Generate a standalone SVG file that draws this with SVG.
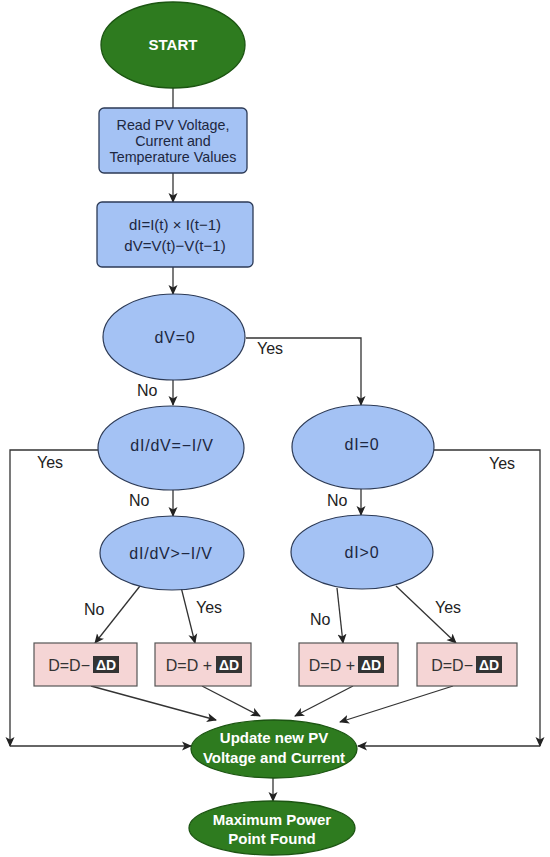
<svg xmlns="http://www.w3.org/2000/svg" width="550" height="857" viewBox="0 0 550 857">
<defs>
<marker id="ah" markerWidth="10" markerHeight="10" refX="9" refY="5" orient="auto" markerUnits="userSpaceOnUse">
<path d="M0,0.5 L10,5 L0,9.5 L2.5,5 Z" fill="#222"/>
</marker>
<style>
.term{fill:#2e7b1f;stroke:#1c5512;stroke-width:1.3}
.tt{font-family:"Liberation Sans",Arial,sans-serif;font-weight:bold;font-size:15px;fill:#fff;text-anchor:middle}
.proc{fill:#a4c2f4;stroke:#2c3a56;stroke-width:1.3}
.dec{fill:#a4c2f4;stroke:#2c3a56;stroke-width:1.2}
.bt{font-family:"Liberation Sans",Arial,sans-serif;font-size:14.3px;fill:#1d2740;text-anchor:middle}
.mt{font-family:"Liberation Sans",Arial,sans-serif;font-size:15px;fill:#1d2740;text-anchor:middle}
.dt{font-family:"Liberation Sans",Arial,sans-serif;font-size:16px;fill:#1d2740;text-anchor:middle;letter-spacing:0.8px}
.act{fill:#f5d5d5;stroke:#555;stroke-width:1.2}
.at{font-family:"Liberation Sans",Arial,sans-serif;font-size:16px;fill:#333;text-anchor:end}
.blk{fill:#333}
.bk{font-family:"Liberation Sans",Arial,sans-serif;font-weight:bold;font-size:14px;fill:#fff;text-anchor:middle}
.lbl{font-family:"Liberation Sans",Arial,sans-serif;font-size:16px;fill:#222}
.cn{fill:none;stroke:#333;stroke-width:1.3}
.ca{fill:none;stroke:#333;stroke-width:1.3;marker-end:url(#ah)}
</style>
</defs>
<rect width="550" height="857" fill="#fff"/>

<g id="connectors">
<line class="cn" x1="173" y1="88" x2="173" y2="108"/>
<line class="ca" x1="173" y1="173" x2="173" y2="202"/>
<line class="ca" x1="173" y1="267" x2="173" y2="294"/>
<polyline class="ca" points="246,338 361,338 361,405"/>
<line class="ca" x1="173" y1="380" x2="173" y2="405"/>
<polyline class="ca" points="98,450 10,450 10,746"/>
<polyline class="ca" points="434,450 540,450 540,746"/>
<line class="ca" x1="173" y1="490" x2="173" y2="516"/>
<line class="ca" x1="361" y1="489" x2="361" y2="515"/>
<line class="ca" x1="140" y1="586" x2="95" y2="643"/>
<line class="ca" x1="181" y1="587" x2="195" y2="643"/>
<line class="ca" x1="337" y1="588" x2="343" y2="643"/>
<line class="ca" x1="396" y1="586" x2="456" y2="643"/>
<line class="ca" x1="91" y1="686" x2="216" y2="720"/>
<line class="ca" x1="202" y1="686" x2="260" y2="716"/>
<line class="ca" x1="353" y1="686" x2="295" y2="716"/>
<line class="ca" x1="453" y1="686" x2="340" y2="722"/>
<line class="ca" x1="10" y1="746" x2="191" y2="746"/>
<line class="ca" x1="540" y1="746" x2="358" y2="746"/>
<line class="ca" x1="273" y1="778" x2="273" y2="801"/>
<text class="lbl" x="257" y="354">Yes</text>
<text class="lbl" x="137" y="396">No</text>
<text class="lbl" x="37" y="468">Yes</text>
<text class="lbl" x="489" y="469">Yes</text>
<text class="lbl" x="129" y="506">No</text>
<text class="lbl" x="327" y="506">No</text>
<text class="lbl" x="84" y="615">No</text>
<text class="lbl" x="196" y="613">Yes</text>
<text class="lbl" x="310" y="625">No</text>
<text class="lbl" x="435" y="613">Yes</text>
</g>

<g id="start">
<ellipse class="term" cx="173" cy="45" rx="72" ry="43"/>
<text class="tt" x="173" y="50">START</text>
</g>

<g id="read">
<rect class="proc" x="99" y="108" width="148" height="65" rx="5"/>
<text class="bt" x="173" y="130">Read PV Voltage,</text>
<text class="bt" x="173" y="146">Current and</text>
<text class="bt" x="173" y="162">Temperature Values</text>
</g>

<g id="calc">
<rect class="proc" x="97" y="202" width="156" height="65" rx="5"/>
<text class="mt" x="175" y="230">dI=I(t) × I(t−1)</text>
<text class="mt" x="175" y="251">dV=V(t)−V(t−1)</text>
</g>

<g id="dv0">
<ellipse class="dec" cx="174" cy="337" rx="71" ry="43"/>
<text class="dt" x="175" y="343">dV=0</text>
</g>

<g id="didv_eq">
<ellipse class="dec" cx="171" cy="448" rx="73" ry="42"/>
<text class="dt" x="172" y="451">dI/dV=−I/V</text>
</g>

<g id="di0">
<ellipse class="dec" cx="363" cy="447" rx="71" ry="42"/>
<text class="dt" x="362" y="450">dI=0</text>
</g>

<g id="didv_gt">
<ellipse class="dec" cx="172" cy="553" rx="72" ry="37"/>
<text class="dt" x="171" y="559">dI/dV&gt;−I/V</text>
</g>

<g id="di_gt">
<ellipse class="dec" cx="362" cy="552" rx="71" ry="37"/>
<text class="dt" x="362" y="558">dI&gt;0</text>
</g>

<g id="actA">
<rect class="act" x="34" y="643" width="103" height="43"/>
<text class="at" x="90" y="671">D=D−</text>
<rect class="blk" x="93" y="656" width="26" height="17"/>
<text class="bk" x="106" y="670">ΔD</text>
</g>

<g id="actB">
<rect class="act" x="155" y="643" width="96" height="43"/>
<text class="at" x="212" y="671">D=D +</text>
<rect class="blk" x="216" y="656" width="26" height="17"/>
<text class="bk" x="229" y="670">ΔD</text>
</g>

<g id="actC">
<rect class="act" x="299" y="643" width="99" height="43"/>
<text class="at" x="355" y="671">D=D +</text>
<rect class="blk" x="358" y="656" width="26" height="17"/>
<text class="bk" x="371" y="670">ΔD</text>
</g>

<g id="actD">
<rect class="act" x="417" y="643" width="100" height="43"/>
<text class="at" x="473" y="671">D=D−</text>
<rect class="blk" x="476" y="656" width="26" height="17"/>
<text class="bk" x="489" y="670">ΔD</text>
</g>

<g id="update">
<ellipse class="term" cx="274" cy="749" rx="83" ry="29"/>
<text class="tt" x="274" y="743">Update new PV</text>
<text class="tt" x="274" y="763">Voltage and Current</text>
</g>

<g id="mpp">
<ellipse class="term" cx="272" cy="828" rx="83" ry="27"/>
<text class="tt" x="272" y="825">Maximum Power</text>
<text class="tt" x="272" y="844">Point Found</text>
</g>
</svg>
